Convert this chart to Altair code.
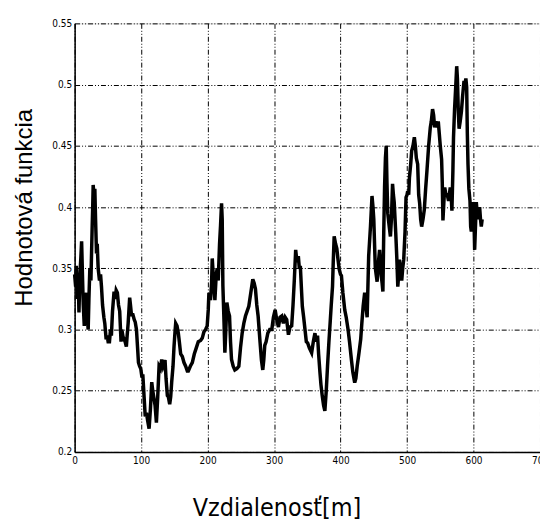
import altair as alt
import pandas as pd

dist = [0, 1.5, 2.5, 4, 5.5, 6.5, 8, 9.5, 10.5, 12, 13, 14.5, 16, 17.9, 19, 20.4, 21.5, 22.9, 24.5,
        26.4, 27.2, 27.9, 29, 30.4, 31.5, 32.9, 34, 35.4, 37.4, 39, 40.4, 42, 44, 45.4, 47.4, 49,
        50.4, 52.4, 54, 55.3, 57, 59.3, 61, 62.5, 64.3, 66, 67.8, 69.8, 71, 72.8, 74.5, 76, 77.8,
        79, 80.5, 82.8, 84, 85.5, 87.7, 89.7, 91.2, 93, 94.7, 96, 97.7, 99.5, 101, 102.7, 104.5,
        106.2, 108, 110, 112, 114, 116, 117.5, 119.6, 121, 123, 125, 127, 129, 131, 133, 136,
        137.5, 139.5, 141, 143, 144.5, 146, 148, 149.5, 151, 152, 154, 156, 157.5, 159.5, 162,
        164.5, 167, 169.5, 171, 174, 177, 180, 183, 186, 189.5, 192, 194.4, 197, 199.4, 201, 202,
        204.4, 206, 207, 209, 211, 213, 214.5, 216, 218, 219.5, 221, 222, 223, 224.5, 226, 227.5,
        229, 231, 233, 234.5, 236, 238.5, 241, 244, 247, 249.5, 252, 254.5, 257, 259.5, 262, 265,
        268, 270, 272, 274, 276, 279, 281, 283, 284.5, 286, 288, 290.6, 293.5, 296.6, 299, 301.6,
        304, 306.6, 309, 311.6, 314, 316.6, 319, 321.6, 324, 326.5, 328.5, 330.5, 332.5, 334.5,
        336.5, 338, 339.5, 341, 342.5, 344.5, 346.5, 348.5, 350.5, 353, 356.5, 359, 361.5, 363.5,
        365.4, 367, 369, 370.5, 372.4, 374.5, 376.4, 378.5, 380.4, 382.5, 384.4, 386, 387.9, 389,
        390.4, 392.5, 394.4, 396, 398, 400, 401.3, 403.5, 406.3, 408.5, 411.3, 413.5, 416.3,
        418.5, 421.3, 423, 425, 427.5, 430.3, 432, 434, 436.3, 438, 440, 442.3, 445, 447.3, 448.8,
        450, 452.2, 453.5, 455, 457, 458.7, 460, 461.2, 462.5, 463.7, 465, 466.2, 467.5, 468.7,
        469.8, 471, 473, 475, 476.5, 478.2, 479.5, 480.7, 482, 483, 484.5, 486.1, 487.5, 488.6,
        490, 492, 493.5, 495, 497, 498.5, 500, 501, 502.5, 503.6, 505.5, 507, 509, 511, 512.5,
        514, 516, 517.5, 519, 520.5, 522, 524, 526, 528, 530, 532.5, 535, 536.5, 538.4, 540,
        541.5, 543.4, 545, 547, 548.5, 550, 552, 553, 554, 555.5, 556.7, 558.5, 560.6, 562.5,
        565, 566.5, 567.5, 569, 569.9, 571.5, 573.4, 574.7, 575.8, 577, 578.3, 580, 581.8, 583.5,
        585.7, 587, 588.5, 589.7, 590.7, 591.7, 593, 594.7, 595.7, 596.7, 598, 599.7, 600.7,
        601.7, 603, 604.2, 605.5, 606.7, 608, 609.2, 610.5, 611.7, 613]

value = [0.345, 0.335, 0.352, 0.325, 0.34, 0.314, 0.345, 0.36, 0.372, 0.34, 0.32, 0.303, 0.325,
         0.33, 0.31, 0.30, 0.325, 0.35, 0.34, 0.384, 0.40, 0.418, 0.41, 0.415, 0.39, 0.362, 0.37,
         0.35, 0.34, 0.345, 0.335, 0.32, 0.31, 0.305, 0.292, 0.295, 0.29, 0.29, 0.30, 0.295,
         0.315, 0.331, 0.325, 0.332, 0.33, 0.32, 0.315, 0.29, 0.30, 0.294, 0.292, 0.29, 0.286,
         0.295, 0.305, 0.326, 0.32, 0.312, 0.312, 0.308, 0.306, 0.30, 0.285, 0.273, 0.27, 0.268,
         0.262, 0.262, 0.245, 0.229, 0.232, 0.225, 0.219, 0.235, 0.257, 0.25, 0.243, 0.238,
         0.224, 0.245, 0.27, 0.268, 0.2755, 0.27, 0.275, 0.26, 0.246, 0.245, 0.239, 0.245, 0.257,
         0.27, 0.286, 0.298, 0.305, 0.303, 0.297, 0.29, 0.28, 0.278, 0.273, 0.27, 0.266, 0.266,
         0.27, 0.273, 0.28, 0.285, 0.29, 0.291, 0.293, 0.298, 0.30, 0.303, 0.316, 0.33, 0.324,
         0.338, 0.358, 0.34, 0.324, 0.345, 0.35, 0.34, 0.37, 0.385, 0.403, 0.39, 0.336, 0.31,
         0.281, 0.30, 0.322, 0.315, 0.311, 0.29, 0.2755, 0.27, 0.267, 0.268, 0.27, 0.285, 0.297,
         0.305, 0.311, 0.315, 0.319, 0.33, 0.341, 0.338, 0.333, 0.32, 0.311, 0.289, 0.275, 0.267,
         0.275, 0.287, 0.29, 0.297, 0.30, 0.30, 0.31, 0.316, 0.308, 0.302, 0.31, 0.311, 0.305,
         0.31, 0.308, 0.2957, 0.302, 0.303, 0.32, 0.341, 0.365, 0.355, 0.36, 0.35, 0.352, 0.335,
         0.319, 0.31, 0.30, 0.29, 0.289, 0.285, 0.281, 0.29, 0.297, 0.29, 0.295, 0.28, 0.265,
         0.255, 0.246, 0.238, 0.2335, 0.25, 0.27, 0.29, 0.306, 0.32, 0.335, 0.355, 0.376, 0.37,
         0.366, 0.358, 0.349, 0.345, 0.344, 0.33, 0.316, 0.31, 0.30, 0.29, 0.2755, 0.265, 0.2566,
         0.26, 0.27, 0.28, 0.292, 0.305, 0.319, 0.33, 0.32, 0.31, 0.36, 0.384, 0.409, 0.40, 0.39,
         0.351, 0.345, 0.339, 0.355, 0.365, 0.355, 0.344, 0.338, 0.331, 0.38, 0.416, 0.44, 0.45,
         0.42, 0.395, 0.385, 0.376, 0.39, 0.419, 0.41, 0.404, 0.39, 0.379, 0.36, 0.335, 0.345,
         0.357, 0.35, 0.34, 0.35, 0.357, 0.38, 0.408, 0.41, 0.413, 0.41, 0.424, 0.435, 0.446,
         0.45, 0.457, 0.45, 0.44, 0.435, 0.41, 0.403, 0.39, 0.384, 0.39, 0.398, 0.415, 0.43,
         0.45, 0.465, 0.47, 0.48, 0.475, 0.465, 0.47, 0.465, 0.47, 0.46, 0.45, 0.439, 0.42,
         0.389, 0.405, 0.416, 0.41, 0.41, 0.405, 0.416, 0.408, 0.397, 0.43, 0.457, 0.48, 0.50,
         0.515, 0.505, 0.48, 0.464, 0.47, 0.478, 0.49, 0.503, 0.50, 0.505, 0.498, 0.46, 0.435,
         0.415, 0.405, 0.384, 0.38, 0.395, 0.404, 0.39, 0.365, 0.385, 0.404, 0.395, 0.39, 0.395,
         0.40, 0.39, 0.384, 0.39]

x_ticks = [0, 100, 200, 300, 400, 500, 600, 700]
y_ticks = [0.2, 0.25, 0.3, 0.35, 0.4, 0.45, 0.5, 0.55]

df = pd.DataFrame({"dist": dist, "value": value})

grid_dash = [5, 2, 1, 2, 1, 2]
tick_font = "Liberation Sans Narrow, DejaVu Sans Condensed, Liberation Sans"

chart = alt.Chart(df).mark_line(color="black", strokeWidth=3.5, strokeJoin="miter").encode(
    x=alt.X("dist:Q",
            scale=alt.Scale(domain=[0, 700], nice=False, zero=False),
            axis=alt.Axis(values=x_ticks, title="Vzdialenosť[m]",
                          labelFont=tick_font, labelFontSize=10, labelColor="black",
                          labelPadding=4, labelFlush=False, ticks=False,
                          domainColor="black", domainWidth=1.5,
                          grid=True, gridColor="black", gridDash=grid_dash, gridWidth=1,
                          titleFont="Liberation Sans Narrow, DejaVu Sans Condensed, Liberation Sans",
                          titleFontSize=25, titleFontWeight="normal", titleColor="black",
                          titleX=203, titleY=64, titleAnchor="start", titleAlign="center",
                          titleBaseline="alphabetic")),
    y=alt.Y("value:Q",
            scale=alt.Scale(domain=[0.2, 0.55], nice=False, zero=False),
            axis=alt.Axis(values=y_ticks, title="Hodnotová funkcia",
                          labelExpr="format(datum.value, '.2~f')",
                          labelFont=tick_font, labelFontSize=10, labelColor="black",
                          labelPadding=3, labelFlush=False, ticks=False,
                          domainColor="black", domainWidth=1.5,
                          grid=True, gridColor="black", gridDash=grid_dash, gridWidth=1,
                          titleFont="Liberation Sans", titleFontSize=24,
                          titleFontWeight="normal", titleColor="black",
                          titleX=-43, titleY=185, titleAngle=-90, titleAlign="center",
                          titleBaseline="alphabetic")),
).properties(
    width=468,
    height=431,
    autosize=alt.AutoSizeParams(type="none"),
    padding={"left": 67, "top": 14, "right": 0, "bottom": 70},
).configure_view(stroke="black", strokeWidth=1.5).configure(background="white")

chart.save("out.html", embed_options={"renderer": "svg", "actions": False})
